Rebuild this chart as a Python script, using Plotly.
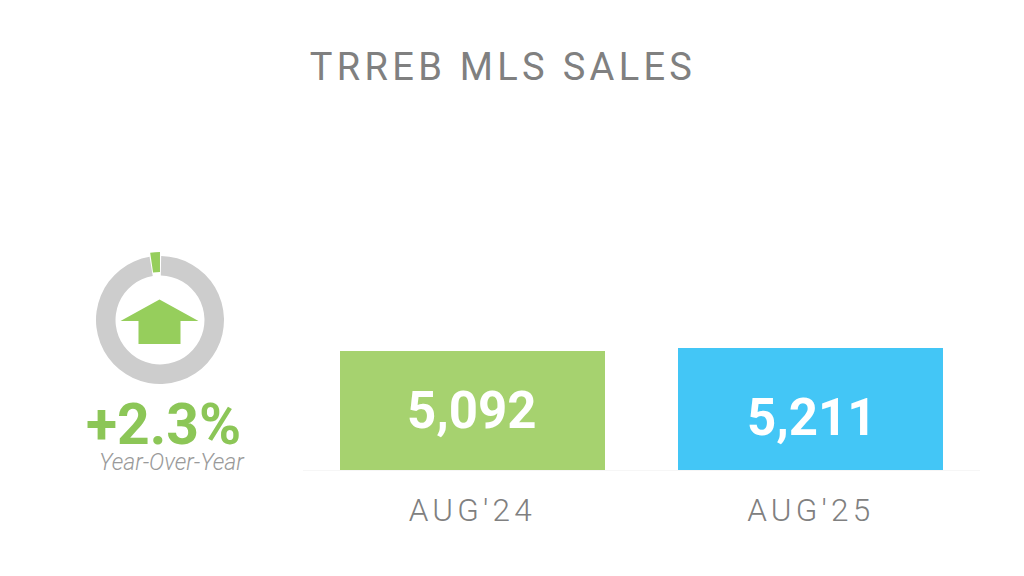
import plotly.graph_objects as go

W, H = 1024, 576

# Data
categories = ["AUG'24", "AUG'25"]
sales = [5092, 5211]
sales_labels = ["5,092", "5,211"]
bar_colors = ["#A6D26F", "#43C6F6"]
change_pct = 2.3
change_label = "+2.3%"
change_caption = "Year-Over-Year"
title_text = "TRREB MLS SALES"


def px(x):
    return x / W


def py(y):
    return 1 - y / H


fig = go.Figure()

fig.add_trace(go.Bar(
    x=[0, 1], y=sales, width=0.783, marker=dict(color=bar_colors, line=dict(width=0)),
    hoverinfo="skip", showlegend=False,
))

# Grey ring
fig.add_trace(go.Pie(
    values=[change_pct + 0.6, 100 - change_pct - 0.6], rotation=-9.4, direction="clockwise",
    sort=False, hole=0.695, textinfo="none", hoverinfo="skip", showlegend=False,
    marker=dict(colors=["rgba(0,0,0,0)", "#CDCDCD"], line=dict(width=0)),
    domain=dict(x=[px(96), px(224)], y=[py(384), py(256)]),
))
# Green tick, slightly longer than the ring
fig.add_trace(go.Pie(
    values=[change_pct, 100 - change_pct], rotation=-8.3, direction="clockwise",
    sort=False, hole=0.706, textinfo="none", hoverinfo="skip", showlegend=False,
    marker=dict(colors=["#96CE5C", "rgba(0,0,0,0)"], line=dict(width=0)),
    domain=dict(x=[px(92), px(228)], y=[py(388), py(252)]),
))

house = [(159.5, 299.5), (120.5, 321), (138.5, 321), (138.5, 344),
         (180.5, 344), (180.5, 321), (198.5, 321)]
path = "M " + " L ".join(f"{px(a):.5f},{py(b):.5f}" for a, b in house) + " Z"

fig.update_layout(
    width=W, height=H, margin=dict(l=0, r=0, t=0, b=0, autoexpand=False),
    paper_bgcolor="white", plot_bgcolor="white", bargap=0,
    title=dict(text=title_text, x=503 / W, xanchor="center", y=py(67), yanchor="middle",
               font=dict(family="Roboto", size=38, color="#808080")),
    xaxis=dict(domain=[px(303), px(980)], range=[-0.5, 1.5], tickmode="array",
               tickvals=[0, 1], ticktext=categories, showgrid=False, zeroline=False,
               showline=True, linecolor="#F6F6F6", linewidth=1, ticks="outside",
               ticklen=12, tickcolor="rgba(0,0,0,0)",
               tickfont=dict(family="Roboto", size=31.5, color="#808080", weight=300)),
    yaxis=dict(domain=[py(470), 1], range=[0, 470 / (119 / 5092)], visible=False),
    shapes=[dict(type="path", xref="paper", yref="paper", path=path,
                 fillcolor="#96CE5C", line=dict(width=0))],
    annotations=[
        dict(x=0, y=sales[0] / 2, text=sales_labels[0], xref="x", yref="y", showarrow=False,
             yshift=0, font=dict(family="Roboto", size=51, color="white", weight=700)),
        dict(x=1, y=sales[1] / 2, text=sales_labels[1], xref="x", yref="y", showarrow=False,
             xshift=1.5, yshift=-8, font=dict(family="Roboto", size=51, color="white", weight=700)),
        dict(x=px(163.5), y=py(424), xref="paper", yref="paper", text=change_label, showarrow=False,
             xanchor="center", yanchor="middle",
             font=dict(family="Roboto", size=57, color="#8CC657", weight=700)),
        dict(x=px(171.5), y=py(462), xref="paper", yref="paper", text=change_caption, showarrow=False,
             xanchor="center", yanchor="middle",
             font=dict(family="Roboto", size=23, color="#9A9A9A", weight=300, style="italic")),
    ],
)

css = ("body{margin:0} .gtitle{letter-spacing:4.3px} .xtick text{letter-spacing:4.2px}")
post = ("var s=document.createElement('style');s.textContent=" + repr(css) +
        ";document.head.appendChild(s);")
fig.write_html("out.html", post_script=post, config=dict(displayModeBar=False))
